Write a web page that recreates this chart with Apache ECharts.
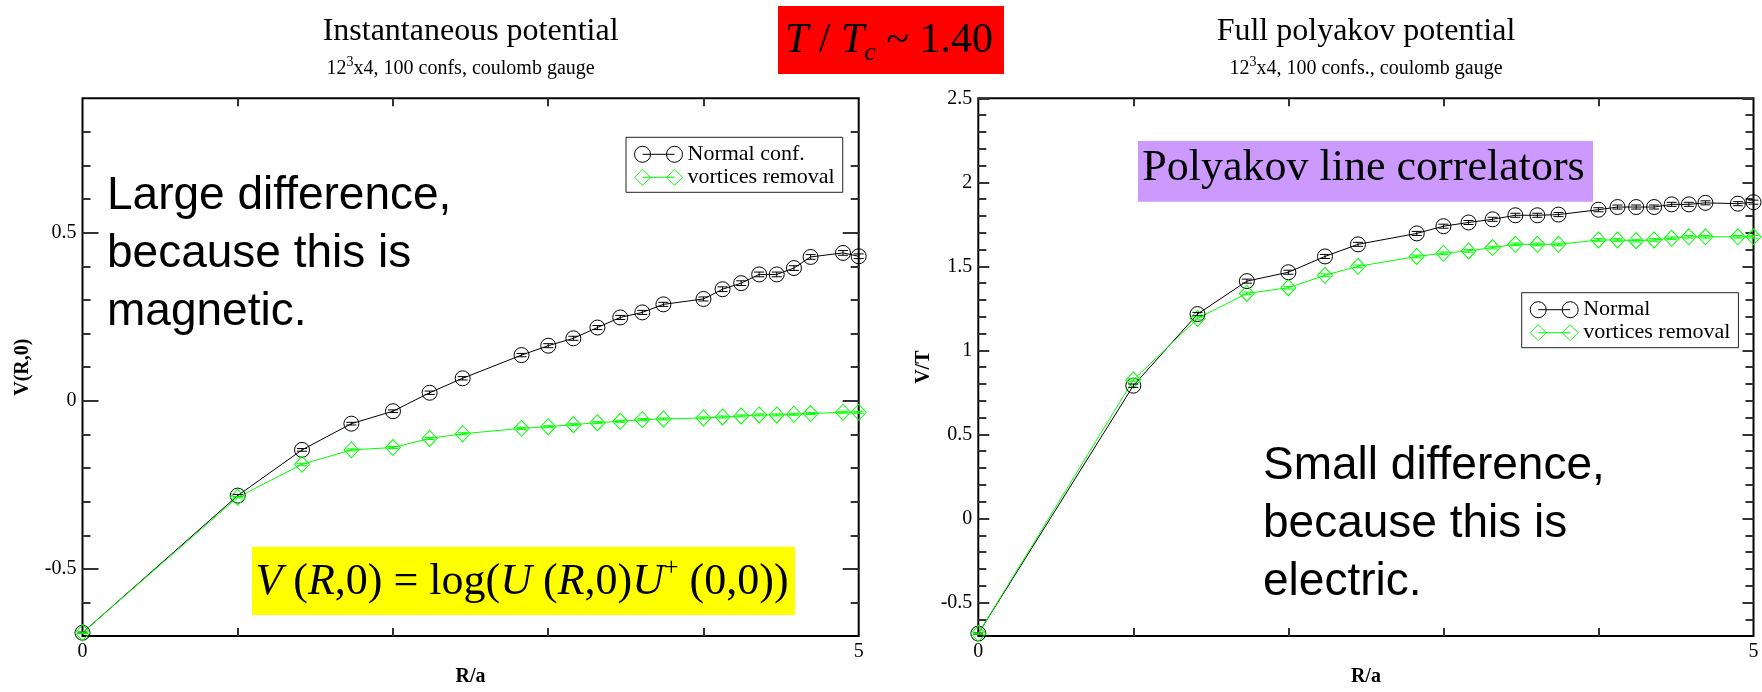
<!DOCTYPE html>
<html><head><meta charset="utf-8">
<script src="https://cdn.jsdelivr.net/npm/echarts@6/dist/echarts.min.js"></script>
<style>html,body{margin:0;padding:0;background:#fff}#c{width:1762px;height:692px}</style>
</head><body><div id="c"></div>
<script>
// ---------- data ----------
const R = [0, 1, 1.414, 1.732, 2, 2.236, 2.449, 2.828, 3, 3.162, 3.317, 3.464, 3.606, 3.742, 4, 4.123, 4.243, 4.359, 4.472, 4.583, 4.690, 4.899, 5];
const leftNormal = [-0.69, -0.282, -0.146, -0.068, -0.031, 0.024, 0.067, 0.136, 0.164, 0.186, 0.218, 0.248, 0.263, 0.287, 0.303, 0.332, 0.350, 0.376, 0.376, 0.395, 0.428, 0.440, 0.430];
const leftNormalErr = [0.002, 0.003, 0.004, 0.004, 0.004, 0.005, 0.005, 0.005, 0.006, 0.006, 0.006, 0.006, 0.006, 0.006, 0.006, 0.007, 0.007, 0.007, 0.007, 0.007, 0.007, 0.007, 0.007];
const leftVortex = [-0.69, -0.287, -0.189, -0.146, -0.139, -0.112, -0.098, -0.082, -0.077, -0.071, -0.065, -0.061, -0.056, -0.054, -0.051, -0.048, -0.045, -0.042, -0.042, -0.040, -0.038, -0.034, -0.034];
const leftVortexErr = [0.002, 0.002, 0.003, 0.003, 0.003, 0.003, 0.003, 0.003, 0.003, 0.003, 0.003, 0.003, 0.003, 0.003, 0.003, 0.003, 0.003, 0.003, 0.003, 0.003, 0.003, 0.003, 0.003];
const rightNormal = [-0.685, 0.79, 1.216, 1.412, 1.465, 1.559, 1.631, 1.696, 1.739, 1.761, 1.780, 1.804, 1.804, 1.808, 1.837, 1.853, 1.853, 1.853, 1.869, 1.869, 1.878, 1.873, 1.882];
const rightNormalErr = [0.004, 0.01, 0.01, 0.012, 0.012, 0.012, 0.012, 0.012, 0.012, 0.012, 0.012, 0.012, 0.012, 0.012, 0.012, 0.012, 0.012, 0.012, 0.012, 0.012, 0.012, 0.012, 0.012];
const rightVortex = [-0.685, 0.824, 1.190, 1.339, 1.373, 1.447, 1.500, 1.559, 1.578, 1.592, 1.612, 1.631, 1.631, 1.631, 1.657, 1.657, 1.653, 1.657, 1.667, 1.676, 1.676, 1.676, 1.676];
const rightVortexErr = [0.004, 0.008, 0.008, 0.008, 0.008, 0.008, 0.008, 0.008, 0.008, 0.008, 0.008, 0.008, 0.008, 0.008, 0.008, 0.008, 0.008, 0.008, 0.008, 0.008, 0.008, 0.008, 0.008];

const xLabels = [0, 5];
const xMinorTicks = [1, 2, 3, 4];
const leftYLabels = [-0.5, 0, 0.5];
const leftYMinor = [-0.6, -0.4, -0.3, -0.2, -0.1, 0.1, 0.2, 0.3, 0.4, 0.6, 0.7, 0.8];
const rightYLabels = [-0.5, 0, 0.5, 1, 1.5, 2, 2.5];
const rightYMinor = [-0.6, -0.4, -0.3, -0.2, -0.1, 0.1, 0.2, 0.3, 0.4, 0.6, 0.7, 0.8, 0.9, 1.1, 1.2, 1.3, 1.4, 1.6, 1.7, 1.8, 1.9, 2.1, 2.2, 2.3, 2.4];

const leftLegend = ['Normal conf.', 'vortices removal'];
const rightLegend = ['Normal', 'vortices removal'];

// ---------- styling ----------
const SERIF = '"Liberation Serif", "Times New Roman", serif';
const SANS = '"Liberation Sans", Arial, sans-serif';
const GREEN = '#00ff00';
const TICK = '#333';

const grids = [
  { left: 82.5, top: 98.3, width: 776.2, height: 544.4 },
  { left: 978.3, top: 98.3, width: 775.2, height: 544.4 }
];

function tick(len, values) {
  return { show: true, inside: true, length: len, customValues: values, lineStyle: { color: TICK, width: 2 } };
}

function xAxes(g, name) {
  const base = { type: 'value', gridIndex: g, min: 0, max: 5, splitLine: { show: false }, axisLine: { show: false, onZero: false } };
  return [
    Object.assign({}, base, {
      position: 'bottom',
      axisTick: tick(8, xMinorTicks),
      axisLabel: { show: true, customValues: xLabels, fontFamily: SERIF, fontSize: 20, color: '#000', margin: 6 },
      name: name, nameLocation: 'middle', nameGap: 30,
      nameTextStyle: { fontFamily: SERIF, fontSize: 20, fontWeight: 'bold', color: '#000' }
    }),
    Object.assign({}, base, {
      position: 'top',
      axisTick: tick(8, xMinorTicks),
      axisLabel: { show: false }
    })
  ];
}
function yAxes(g, min, max, labels, minor, majorLen, name, nameGap) {
  const base = { type: 'value', gridIndex: g, min: min, max: max, splitLine: { show: false }, axisLine: { show: false, onZero: false } };
  const out = [];
  ['left', 'right'].forEach(function (pos) {
    out.push(Object.assign({}, base, {
      position: pos,
      axisTick: tick(8, minor),
      axisLabel: pos === 'left'
        ? { show: true, customValues: labels, fontFamily: SERIF, fontSize: 20, color: '#000', margin: 6 }
        : { show: false },
      name: pos === 'left' ? name : '',
      nameLocation: 'middle', nameGap: nameGap, nameRotate: 90,
      nameTextStyle: { fontFamily: SERIF, fontSize: 20, fontWeight: 'bold', color: '#000' }
    }));
    out.push(Object.assign({}, base, {
      position: pos,
      axisTick: tick(majorLen, labels),
      axisLabel: { show: false }
    }));
  });
  return out;
}

function zip(xs, ys) { return xs.map(function (x, i) { return [x, ys[i]]; }); }
function zip3(xs, ys, es) { return xs.map(function (x, i) { return [x, ys[i], es[i]]; }); }

function lineSeries(name, xi, yi, data, color, symbol) {
  return {
    name: name, type: 'line', xAxisIndex: xi, yAxisIndex: yi, data: data,
    symbol: symbol, symbolSize: symbol === 'circle' ? 15 : [15, 16], showAllSymbol: true,
    lineStyle: { color: color, width: 1 },
    itemStyle: { color: 'rgba(0,0,0,0)', borderColor: color, borderWidth: 1 },
    emphasis: { disabled: true }, animation: false, z: 3, clip: false
  };
}
function errSeries(xi, yi, data, color) {
  return {
    type: 'custom', xAxisIndex: xi, yAxisIndex: yi, data: data, animation: false, z: 4, silent: true,
    renderItem: function (params, api) {
      const x = api.value(0), y = api.value(1), e = api.value(2);
      const t = api.coord([x, y + e]), b = api.coord([x, y - e]);
      const hw = 5;
      const st = { stroke: color, lineWidth: 1 };
      return { type: 'group', children: [
        { type: 'line', shape: { x1: t[0], y1: t[1], x2: b[0], y2: b[1] }, style: st },
        { type: 'line', shape: { x1: t[0] - hw, y1: t[1], x2: t[0] + hw, y2: t[1] }, style: st },
        { type: 'line', shape: { x1: b[0] - hw, y1: b[1], x2: b[0] + hw, y2: b[1] }, style: st }
      ] };
    }
  };
}

const circIcon = 'path://M0,8a8,8 0 1,0 16,0a8,8 0 1,0 -16,0M8,8L40,8M32,8a8,8 0 1,0 16,0a8,8 0 1,0 -16,0';
const diaIcon = 'path://M0,8L8,0L16,8L8,16ZM8,8L40,8M32,8L40,0L48,8L40,16Z';

function legend(names, left, top) {
  return {
    orient: 'vertical', left: left, top: top, selectedMode: false,
    padding: [6, 8, 4, 8], itemGap: 1, itemWidth: 48, itemHeight: 16,
    backgroundColor: '#fff', borderColor: '#222', borderWidth: 1,
    textStyle: { fontFamily: SERIF, fontSize: 22, color: '#000', lineHeight: 22 },
    data: [
      { name: names[0], icon: circIcon, itemStyle: { color: 'rgba(0,0,0,0)', borderColor: '#000', borderWidth: 1 } },
      { name: names[1], icon: diaIcon, itemStyle: { color: 'rgba(0,0,0,0)', borderColor: GREEN, borderWidth: 1 } }
    ]
  };
}

const option = {
  backgroundColor: '#fff',
  animation: false,
  grid: grids.map(function (g) { return Object.assign({ show: true, borderColor: '#000', borderWidth: 2, backgroundColor: 'transparent' }, g); }),
  xAxis: xAxes(0, 'R/a').concat(xAxes(1, 'R/a')),
  yAxis: yAxes(0, -0.7, 0.9, leftYLabels, leftYMinor, 16, 'V(R,0)', 50)
    .concat(yAxes(1, -0.7, 2.5, rightYLabels, rightYMinor, 11, 'V/T', 44)),
  legend: [legend(leftLegend, 626, 137.3), legend(rightLegend, 1521.7, 292.7)],
  series: [
    lineSeries(leftLegend[0], 0, 0, zip(R, leftNormal), '#000', 'circle'),
    lineSeries(leftLegend[1], 0, 0, zip(R, leftVortex), GREEN, 'diamond'),
    errSeries(0, 0, zip3(R, leftNormal, leftNormalErr), '#000'),
    errSeries(0, 0, zip3(R, leftVortex, leftVortexErr), GREEN),
    lineSeries(rightLegend[0], 2, 4, zip(R, rightNormal), '#000', 'circle'),
    lineSeries(rightLegend[1], 2, 4, zip(R, rightVortex), GREEN, 'diamond'),
    errSeries(2, 4, zip3(R, rightNormal, rightNormalErr), '#000'),
    errSeries(2, 4, zip3(R, rightVortex, rightVortexErr), GREEN)
  ],
  graphic: [
    // titles
    { type: 'text', x: 470.6, y: 32, style: { text: 'Instantaneous potential', font: '32px ' + SERIF, fill: '#000', align: 'center', verticalAlign: 'middle' } },
    { type: 'text', x: 460.6, y: 69, style: { text: '12{sup|3}x4, 100 confs, coulomb gauge', font: '20px ' + SERIF, fill: '#000', align: 'center', verticalAlign: 'middle', lineHeight: 28,
      rich: { sup: { font: '14px ' + SERIF, fill: '#000', verticalAlign: 'top', lineHeight: 14 } } } },
    { type: 'text', x: 1366, y: 32, style: { text: 'Full polyakov potential', font: '32px ' + SERIF, fill: '#000', align: 'center', verticalAlign: 'middle' } },
    { type: 'text', x: 1366, y: 69, style: { text: '12{sup|3}x4, 100 confs., coulomb gauge', font: '20px ' + SERIF, fill: '#000', align: 'center', verticalAlign: 'middle', lineHeight: 28,
      rich: { sup: { font: '14px ' + SERIF, fill: '#000', verticalAlign: 'top', lineHeight: 14 } } } },
    // red box
    { type: 'rect', shape: { x: 778, y: 6, width: 226, height: 68 }, style: { fill: '#ff0000' }, z: 10 },
    { type: 'text', x: 889, y: 41, z: 11, style: { text: '{i|T} / {i|T}{sub|c} ~ 1.40', font: '42px ' + SERIF, fill: '#000', align: 'center', verticalAlign: 'middle', lineHeight: 50,
      rich: { i: { font: 'italic 42px ' + SERIF, fill: '#000' }, sub: { font: 'italic 26px ' + SERIF, fill: '#000', verticalAlign: 'bottom', lineHeight: 26 } } } },
    // yellow formula
    { type: 'rect', shape: { x: 252, y: 546.7, width: 543, height: 68.3 }, style: { fill: '#ffff00' }, z: 10 },
    { type: 'text', x: 522, y: 582, z: 11, style: { text: '{i|V} ({i|R},0) = log({i|U} ({i|R},0){i|U}{sup|+} (0,0))', font: '44px ' + SERIF, fill: '#000', align: 'center', verticalAlign: 'middle', lineHeight: 54,
      rich: { i: { font: 'italic 44px ' + SERIF, fill: '#000' }, sup: { font: '26px ' + SERIF, fill: '#000', verticalAlign: 'top', lineHeight: 26 } } } },
    // purple box
    { type: 'rect', shape: { x: 1138, y: 141, width: 455, height: 60.7 }, style: { fill: '#cc99ff' }, z: 10 },
    { type: 'text', x: 1363.5, y: 168, z: 11, style: { text: 'Polyakov line correlators', font: '44px ' + SERIF, fill: '#000', align: 'center', verticalAlign: 'middle' } },
    // big annotations
    { type: 'text', x: 107, y: 167, z: 11, style: { text: 'Large difference,\nbecause this is\nmagnetic.', font: '46px ' + SANS, fill: '#000', align: 'left', verticalAlign: 'top', lineHeight: 58 } },
    { type: 'text', x: 1263, y: 437, z: 11, style: { text: 'Small difference,\nbecause this is\nelectric.', font: '46px ' + SANS, fill: '#000', align: 'left', verticalAlign: 'top', lineHeight: 58 } }
  ]
};

const chart = echarts.init(document.getElementById('c'), null, { renderer: 'canvas' });
chart.setOption(option);
</script>
</body></html>
